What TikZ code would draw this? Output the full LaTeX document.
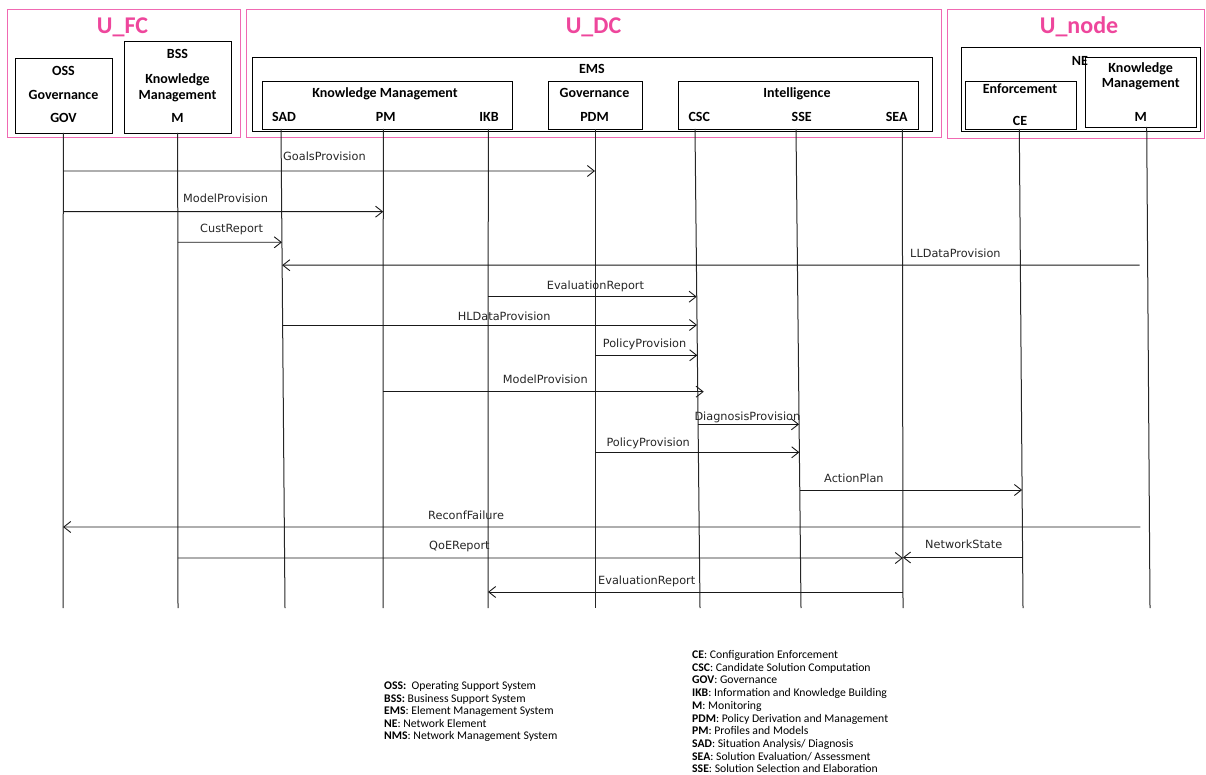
\documentclass[tikz,border=0pt]{standalone}
\usepackage{fontspec}
\setmainfont{Carlito}
\newfontfamily\msgfont{DejaVu Sans}
\usetikzlibrary{arrows.meta,calc}

\definecolor{upink}{RGB}{238,70,156}
\definecolor{uline}{RGB}{240,105,178}

\tikzset{
  udomain/.style={draw=uline, line width=1.1pt, anchor=north west, inner sep=0},
  dtitle/.style={text=upink, font=\fontsize{24}{26}\selectfont\bfseries, anchor=base, inner sep=0},
  box/.style={draw=black, line width=0.9pt, anchor=north west, inner sep=0},
  btxt/.style={font=\fontsize{14}{16}\selectfont\bfseries, anchor=base, inner sep=0},
  life/.style={draw=black!85, line width=1pt},
  msg/.style={draw=black!90, line width=0.9pt, -{Straight Barb[length=7pt,width=11pt]}},
  mlab/.style={font=\msgfont\fontsize{11.3}{13}\selectfont, text=black!85, anchor=base west, inner sep=0},
  legend/.style={font=\fontsize{11.7}{13}\selectfont, anchor=base west, inner sep=0}
}

% lifeline: name, top x, top y, bottom x (all lifelines end at y = 608)
\newcommand{\lifeline}[4]{%
  \expandafter\xdef\csname ltop#1\endcsname{#3}%
  \coordinate (#1-t) at (#2,#3);
  \coordinate (#1-b) at (#4,608);
  \draw[life] (#1-t) -- (#1-b);
}

% message: id, from lifeline, to lifeline, y, extra options, label x, label baseline, label
\newcommand{\msgline}[8]{%
  \pgfmathsetmacro\fracS{(#4-\csname ltop#2\endcsname)/(608-\csname ltop#2\endcsname)}%
  \pgfmathsetmacro\fracE{(#4-\csname ltop#3\endcsname)/(608-\csname ltop#3\endcsname)}%
  \coordinate (#1-s) at ($(#2-t)!\fracS!(#2-b)$);
  \coordinate (#1-e) at ($(#3-t)!\fracE!(#3-b)$);
  \draw[msg,#5] (#1-s) -- (#1-e);
  \node[mlab] (#1-lab) at (#6,#7) {#8};
}

\begin{document}
\begin{tikzpicture}[x=1pt,y=-1pt]
\useasboundingbox (0,0) rectangle (1206,775);

% ---- domains ----
\node[udomain, minimum width=233pt, minimum height=128pt] (UFC) at (7,9) {};
\node[udomain, minimum width=695pt, minimum height=128pt] (UDC) at (246,9) {};
\node[udomain, minimum width=257pt, minimum height=129pt] (Unode) at (947,9) {};
\node[dtitle] (UFC-title) at (122.5,33.5) {U\_FC};
\node[dtitle] (UDC-title) at (593.5,33.5) {U\_DC};
\node[dtitle] (Unode-title) at (1079,33.5) {U\_node};

% ---- U_FC ----
\node[box, minimum width=97pt, minimum height=75pt] (OSS) at (15,58) {};
\node[btxt] (OSS-1) at (63.5,75.5) {OSS};
\node[btxt] (OSS-2) at (63.5,99.5) {Governance};
\node[btxt] (OSS-3) at (63.5,122.5) {GOV};

\node[box, minimum width=107pt, minimum height=92pt] (BSS) at (124,41) {};
\node[btxt] (BSS-1) at (177.5,58.5) {BSS};
\node[btxt] (BSS-2) at (177.5,83.5) {Knowledge};
\node[btxt] (BSS-3) at (177.5,99.5) {Management};
\node[btxt] (BSS-4) at (177.5,122.5) {M};

% ---- U_DC ----
\node[box, minimum width=680pt, minimum height=74pt] (EMS) at (252,57) {};
\node[btxt] (EMS-1) at (592,73.5) {EMS};

\node[box, minimum width=250pt, minimum height=48pt] (KMdc) at (262,81) {};
\node[btxt] (KMdc-1) at (385,97.2) {Knowledge Management};
\node[btxt] (SADl) at (284,121.2) {SAD};
\node[btxt] (PMl) at (385.7,121.2) {PM};
\node[btxt] (IKBl) at (489,121.2) {IKB};

\node[box, minimum width=94pt, minimum height=48pt] (GOVdc) at (548,81) {};
\node[btxt] (GOVdc-1) at (594.5,97.2) {Governance};
\node[btxt] (PDMl) at (594.5,121.2) {PDM};

\node[box, minimum width=240pt, minimum height=48pt] (INT) at (678,81) {};
\node[btxt] (INT-1) at (797,97.2) {Intelligence};
\node[btxt] (CSCl) at (699.3,121.2) {CSC};
\node[btxt] (SSEl) at (801.7,121.2) {SSE};
\node[btxt] (SEAl) at (896.7,121.2) {SEA};

% ---- U_node ----
\node[box, minimum width=239pt, minimum height=84pt] (NE) at (961,47) {};
\node[btxt] (NE-1) at (1080,65.5) {NE};
\node[box, minimum width=111pt, minimum height=48pt] (ENF) at (965,81) {};
\node[btxt] (ENF-1) at (1020,93.8) {Enforcement};
\node[btxt] (CEl) at (1020,125.2) {CE};
\node[box, minimum width=111pt, minimum height=70pt] (KMne) at (1085,57) {};
\node[btxt] (KMne-1) at (1140.7,72.8) {Knowledge};
\node[btxt] (KMne-2) at (1140.7,87.8) {Management};
\node[btxt] (KMne-3) at (1140.7,121.2) {M};

% ---- lifelines ----
\lifeline{GOV}{63.3}{133}{63}
\lifeline{MF}{177.7}{133}{178}
\lifeline{SAD}{281}{129}{285}
\lifeline{PM}{383.3}{129}{383}
\lifeline{IKB}{488.3}{129}{488}
\lifeline{PDM}{595}{129}{595}
\lifeline{CSC}{695}{129}{700}
\lifeline{SSE}{796}{129}{801}
\lifeline{SEA}{902.3}{129}{903}
\lifeline{CE}{1019.3}{129}{1023}
\lifeline{MN}{1146.7}{127}{1150}

% ---- messages ----
\msgline{m1}{GOV}{PDM}{171}{}{283}{161}{GoalsProvision}
\msgline{m2}{GOV}{PM}{211.7}{}{183}{203}{ModelProvision}
\msgline{m3}{MF}{SAD}{242.3}{}{200}{233}{CustReport}
\msgline{m4}{MN}{SAD}{265.2}{shorten <=8pt}{910}{257.5}{LLDataProvision}
\msgline{m5}{IKB}{CSC}{296.7}{}{546.7}{290}{EvaluationReport}
\msgline{m6}{SAD}{CSC}{325}{}{457.7}{320}{HLDataProvision}
\msgline{m7}{PDM}{CSC}{355.3}{}{602.7}{347}{PolicyProvision}
\msgline{m8}{PM}{CSC}{391.7}{shorten >=-6pt}{502.7}{383}{ModelProvision}
\msgline{m9}{CSC}{SSE}{424.3}{}{694.3}{420}{DiagnosisProvision}
\msgline{m10}{PDM}{SSE}{452.3}{}{606.3}{446.5}{PolicyProvision}
\msgline{m11}{SSE}{CE}{490}{}{824}{482}{ActionPlan}
\msgline{m12}{MN}{GOV}{527}{shorten <=9pt}{428}{519}{ReconfFailure}
\msgline{m13}{MF}{SEA}{558}{}{429}{549}{QoEReport}
\msgline{m14}{CE}{SEA}{557.5}{}{925}{548}{NetworkState}
\msgline{m15}{SEA}{IKB}{592}{}{598}{584}{EvaluationReport}

% ---- abbreviations ----
\foreach \t [count=\i] in {
  {\textbf{OSS:}\ \ Operating Support System},
  {\textbf{BSS:} Business Support System},
  {\textbf{EMS}: Element Management System},
  {\textbf{NE}: Network Element},
  {\textbf{NMS}: Network Management System}}
  \node[legend] (lgA\i) at (384,{689.6+12.5*(\i-1)}) {\t};

\foreach \t [count=\i] in {
  {\textbf{CE}: Configuration Enforcement},
  {\textbf{CSC}: Candidate Solution Computation},
  {\textbf{GOV}: Governance},
  {\textbf{IKB}: Information and Knowledge Building},
  {\textbf{M}: Monitoring},
  {\textbf{PDM}: Policy Derivation and Management},
  {\textbf{PM}: Profiles and Models},
  {\textbf{SAD}: Situation Analysis/ Diagnosis},
  {\textbf{SEA}: Solution Evaluation/ Assessment},
  {\textbf{SSE}: Solution Selection and Elaboration}}
  \node[legend] (lgB\i) at (692,{658.5+12.7*(\i-1)}) {\t};
\end{tikzpicture}
\end{document}
